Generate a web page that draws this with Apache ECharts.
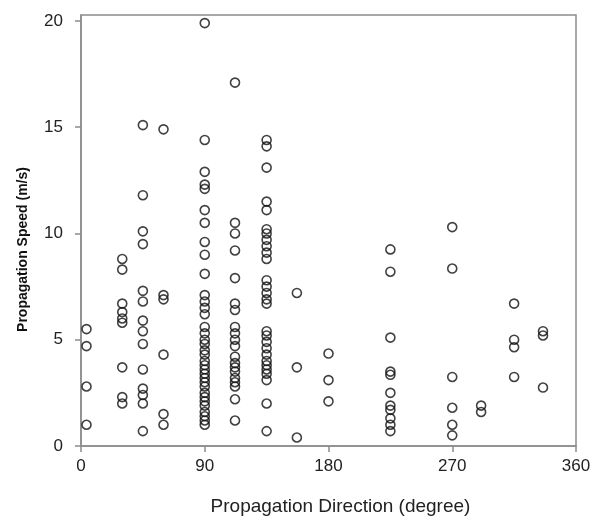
<!DOCTYPE html>
<html>
<head>
<meta charset="utf-8">
<script src="https://cdn.jsdelivr.net/npm/echarts@6/dist/echarts.min.js"></script>
<style>
  html, body { margin: 0; padding: 0; background: #fff; }
  #chart { width: 595px; height: 521px; }
</style>
</head>
<body>
<div id="chart"></div>
<script>
// propagation direction (degree) of each column of points
var directions = [4, 30, 45, 60, 90, 112, 135, 157, 180, 225, 270, 291, 315, 336];

var speeds = [
  [5.5, 4.7, 2.8, 1.0],
  [8.8, 8.3, 6.7, 6.3, 6.0, 5.8, 3.7, 2.3, 2.0],
  [15.1, 11.8, 10.1, 9.5, 7.3, 6.8, 5.9, 5.4, 4.8, 3.6, 2.7, 2.4, 2.0, 0.7],
  [14.9, 7.1, 6.9, 4.3, 1.5, 1.0],
  [19.9, 14.4, 12.9, 12.3, 12.1, 11.1, 10.5, 9.6, 9.0, 8.1, 7.1, 6.8, 6.5, 6.2,
   5.6, 5.3, 5.0, 4.8, 4.5, 4.3, 4.0, 3.8, 3.6, 3.4, 3.2, 3.0, 2.8, 2.5, 2.3,
   2.1, 1.9, 1.6, 1.4, 1.2, 1.0],
  [17.1, 10.5, 10.0, 9.2, 7.9, 6.7, 6.4, 5.6, 5.3, 5.0, 4.7, 4.2, 3.9, 3.7,
   3.5, 3.2, 3.0, 2.8, 2.2, 1.2],
  [14.4, 14.1, 13.1, 11.5, 11.1, 10.2, 10.0, 9.7, 9.4, 9.1, 8.8, 7.8, 7.5, 7.2,
   6.9, 6.7, 5.4, 5.2, 4.9, 4.6, 4.3, 4.0, 3.8, 3.6, 3.4, 3.1, 2.0, 0.7],
  [7.2, 3.7, 0.4],
  [4.35, 3.1, 2.1],
  [9.25, 8.2, 5.1, 3.5, 3.35, 2.5, 1.9, 1.7, 1.3, 1.0, 0.7],
  [10.3, 8.35, 3.25, 1.8, 1.0, 0.5],
  [1.9, 1.6],
  [6.7, 5.0, 4.65, 3.25],
  [5.4, 5.2, 2.75]
];

var xTicks = [0, 90, 180, 270, 360];
var yTicks = [0, 5, 10, 15, 20];

var points = [];
directions.forEach(function (d, i) {
  speeds[i].forEach(function (s) { points.push([d, s]); });
});

var frameColor = '#8c8c8c';
var labelFont = 'Liberation Sans, Arial, sans-serif';

var myChart = echarts.init(document.getElementById('chart'));
var option = {
  animation: false,
  backgroundColor: '#fff',
  grid: {
    left: 81, right: 19, top: 15, bottom: 75,
    show: true,
    borderColor: frameColor,
    borderWidth: 1.5
  },
  xAxis: {
    type: 'value',
    min: 0,
    max: 360,
    interval: 90,
    name: 'Propagation Direction (degree)',
    nameLocation: 'middle',
    nameGap: 51,
    nameTextStyle: {
      fontFamily: labelFont, fontSize: 19, color: '#222',
      padding: [0, 0, 0, 24]
    },
    axisLine: { lineStyle: { color: frameColor, width: 1.5 } },
    axisTick: { length: 6, inside: false, lineStyle: { color: frameColor, width: 1.5 } },
    axisLabel: {
      fontFamily: labelFont, fontSize: 17, color: '#222', margin: 12,
      customValues: xTicks
    },
    splitLine: { show: false }
  },
  yAxis: {
    type: 'value',
    min: 0,
    max: 20.28,
    name: 'Propagation Speed (m/s)',
    nameLocation: 'middle',
    nameRotate: 90,
    nameGap: 51,
    nameTextStyle: {
      fontFamily: labelFont, fontSize: 14, fontWeight: 'bold', color: '#111',
      padding: [0, 38, 0, 0]
    },
    axisLine: { lineStyle: { color: frameColor, width: 1.5 } },
    axisTick: {
      length: 6, lineStyle: { color: frameColor, width: 1.5 },
      customValues: yTicks
    },
    axisLabel: {
      fontFamily: labelFont, fontSize: 17, color: '#222', margin: 18,
      customValues: yTicks
    },
    splitLine: { show: false }
  },
  series: [
    {
      type: 'scatter',
      data: points,
      symbol: 'circle',
      symbolSize: 9,
      itemStyle: {
        color: 'rgba(255,255,255,0)',
        borderColor: '#111',
        borderWidth: 1.6
      }
    }
  ]
};

myChart.setOption(option);
</script>
</body>
</html>
